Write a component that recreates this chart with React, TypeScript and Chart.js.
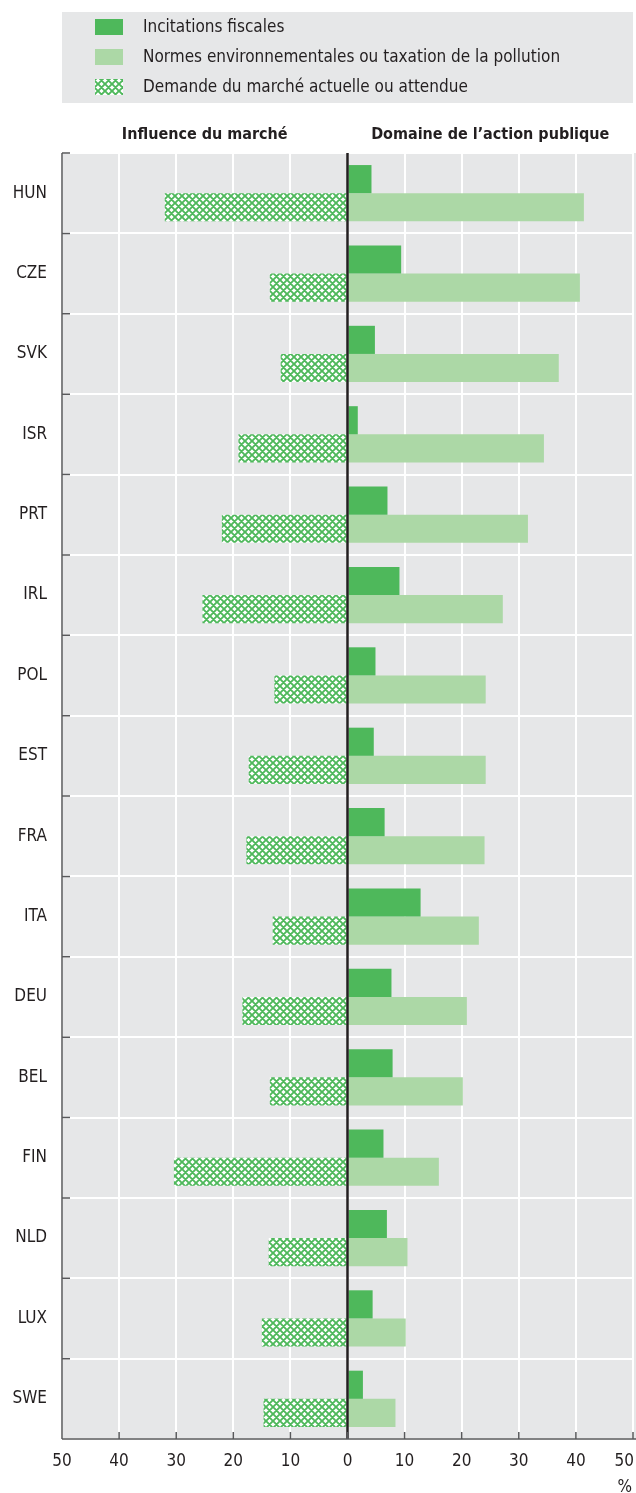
import React, { useEffect, useRef } from 'react';
import { Chart, registerables } from 'chart.js';

Chart.register(...registerables);

const countries = ['HUN', 'CZE', 'SVK', 'ISR', 'PRT', 'IRL', 'POL', 'EST', 'FRA', 'ITA', 'DEU', 'BEL', 'FIN', 'NLD', 'LUX', 'SWE'];
const fiscal = [4.2, 9.4, 4.8, 1.8, 7.0, 9.1, 4.9, 4.6, 6.5, 12.8, 7.7, 7.9, 6.3, 6.9, 4.4, 2.7];
const normes = [41.4, 40.7, 37.0, 34.4, 31.6, 27.2, 24.2, 24.2, 24.0, 23.0, 20.9, 20.2, 16.0, 10.5, 10.2, 8.4];
const demande = [-32.0, -13.6, -11.7, -19.1, -22.0, -25.4, -12.8, -17.3, -17.7, -13.1, -18.4, -13.6, -30.4, -13.8, -15.0, -14.7];
const xTicks = [-50, -40, -30, -20, -10, 0, 10, 20, 30, 40, 50];
const seriesLabels = [
  'Incitations fiscales',
  'Normes environnementales ou taxation de la pollution',
  'Demande du marché actuelle ou attendue',
];
const sideTitles = ['Influence du marché', 'Domaine de l\u2019action publique'];
const unitLabel = '%';

const FONT = '"Liberation Sans Narrow", "DejaVu Sans Condensed", "Roboto Condensed", sans-serif';
const DARK_GREEN = '#4eb85b';
const LIGHT_GREEN = '#acd8a6';
const BG = '#e6e7e8';
const TEXT = '#231f20';
const AXIS = '#58595b';

function makeHatch(): CanvasPattern | string {
  const s = 7;
  const c = document.createElement('canvas');
  c.width = s;
  c.height = s;
  const g = c.getContext('2d');
  if (!g) return DARK_GREEN;
  g.fillStyle = '#ffffff';
  g.fillRect(0, 0, s, s);
  g.strokeStyle = DARK_GREEN;
  g.lineWidth = 1.9;
  g.beginPath();
  for (let k = -1; k <= 1; k++) {
    g.moveTo(k * s - 1, -1); g.lineTo(k * s + s + 1, s + 1);
    g.moveTo(k * s + s + 1, -1); g.lineTo(k * s - 1, s + 1);
  }
  g.stroke();
  const p = g.createPattern(c, 'repeat');
  return p || DARK_GREEN;
}

export default function App() {
  const ref = useRef<HTMLCanvasElement | null>(null);

  useEffect(() => {
    document.body.style.margin = '0';
    const canvas = ref.current;
    if (!canvas) return;
    const hatch = makeHatch();

    const decor = {
      id: 'decor',
      beforeDraw(chart: any) {
        const { ctx, chartArea, width } = chart;
        ctx.save();
        ctx.fillStyle = BG;
        ctx.fillRect(chartArea.left, chartArea.top, width - chartArea.left, chartArea.bottom - chartArea.top);
        ctx.fillRect(62, 12, 571, 91);
        const rows = [27, 57, 87];
        const fills = [DARK_GREEN, LIGHT_GREEN, hatch];
        rows.forEach((y, i) => {
          ctx.fillStyle = fills[i] as any;
          ctx.fillRect(95, y - 8, 28, 16);
          ctx.fillStyle = TEXT;
          ctx.font = `17px ${FONT}`;
          ctx.textAlign = 'left';
          ctx.textBaseline = 'middle';
          ctx.fillText(seriesLabels[i], 143, y + 1);
        });
        ctx.restore();
      },
      afterDatasetsDraw(chart: any) {
        const { ctx, chartArea, width } = chart;
        const xs = chart.scales.x;
        const ys = chart.scales.y;
        ctx.save();
        const x0 = xs.getPixelForValue(0);
        ctx.strokeStyle = TEXT;
        ctx.lineWidth = 2.5;
        ctx.beginPath();
        ctx.moveTo(x0, chartArea.top);
        ctx.lineTo(x0, chartArea.bottom);
        ctx.stroke();
        ctx.strokeStyle = AXIS;
        ctx.lineWidth = 1.5;
        ctx.beginPath();
        ctx.moveTo(chartArea.left, chartArea.top);
        ctx.lineTo(chartArea.left, chartArea.bottom);
        const n = countries.length;
        const step = ys.getPixelForValue(1) - ys.getPixelForValue(0);
        for (let i = 0; i <= n; i++) {
          const yb = ys.getPixelForValue(0) - step / 2 + i * step;
          ctx.moveTo(chartArea.left, yb);
          ctx.lineTo(chartArea.left + 8, yb);
        }
        ctx.moveTo(chartArea.left, chartArea.bottom);
        ctx.lineTo(width, chartArea.bottom);
        xTicks.forEach((v) => {
          const px = xs.getPixelForValue(v);
          ctx.moveTo(px, chartArea.bottom);
          ctx.lineTo(px, chartArea.bottom - 7);
        });
        ctx.stroke();
        ctx.fillStyle = TEXT;
        ctx.font = `17px ${FONT}`;
        ctx.textBaseline = 'middle';
        xTicks.forEach((v, i) => {
          const px = xs.getPixelForValue(v);
          const last = i === xTicks.length - 1;
          ctx.textAlign = last ? 'right' : 'center';
          ctx.fillText(String(Math.abs(v)), last ? px + 1 : px, chartArea.bottom + 23);
        });
        ctx.textAlign = 'right';
        ctx.fillText(unitLabel, width - 4, chartArea.bottom + 49);
        ctx.font = `bold 16px ${FONT}`;
        ctx.textAlign = 'center';
        ctx.fillText(sideTitles[0], (chartArea.left + x0) / 2, chartArea.top - 18);
        ctx.fillText(sideTitles[1], (x0 + chartArea.right) / 2, chartArea.top - 18);
        ctx.restore();
      },
    };

    const chart = new Chart(canvas, {
      type: 'bar',
      data: {
        labels: countries,
        datasets: [
          { label: seriesLabels[0], data: fiscal, backgroundColor: DARK_GREEN, stack: 'a' },
          { label: seriesLabels[1], data: normes, backgroundColor: LIGHT_GREEN, stack: 'b' },
          { label: seriesLabels[2], data: demande, backgroundColor: hatch as any, stack: 'b' },
        ],
      },
      options: {
        indexAxis: 'y',
        animation: false,
        responsive: true,
        maintainAspectRatio: false,
        datasets: { bar: { categoryPercentage: 0.7, barPercentage: 1.0 } },
        layout: { padding: { top: 153, bottom: 54, left: 0, right: 3 } },
        plugins: { legend: { display: false }, tooltip: { enabled: false } },
        scales: {
          x: {
            type: 'linear',
            min: -50,
            max: 50,
            stacked: true,
            ticks: { display: false, stepSize: 10 },
            grid: { color: '#ffffff', lineWidth: 2, drawTicks: false },
            border: { display: false },
            afterFit: (s: any) => { s.height = 0; s.paddingLeft = 0; s.paddingRight = 0; },
          },
          y: {
            type: 'category',
            stacked: true,
            ticks: { color: TEXT, font: { family: FONT, size: 17 }, padding: 15 },
            grid: { color: '#ffffff', lineWidth: 2, drawTicks: false, offset: true },
            border: { display: false },
            afterFit: (s: any) => { s.width = 62; },
          },
        },
      },
      plugins: [decor],
    });
    return () => chart.destroy();
  }, []);

  return (
    <div style={{ position: 'relative', width: 636, height: 1493 }}>
      <canvas ref={ref} />
    </div>
  );
}
